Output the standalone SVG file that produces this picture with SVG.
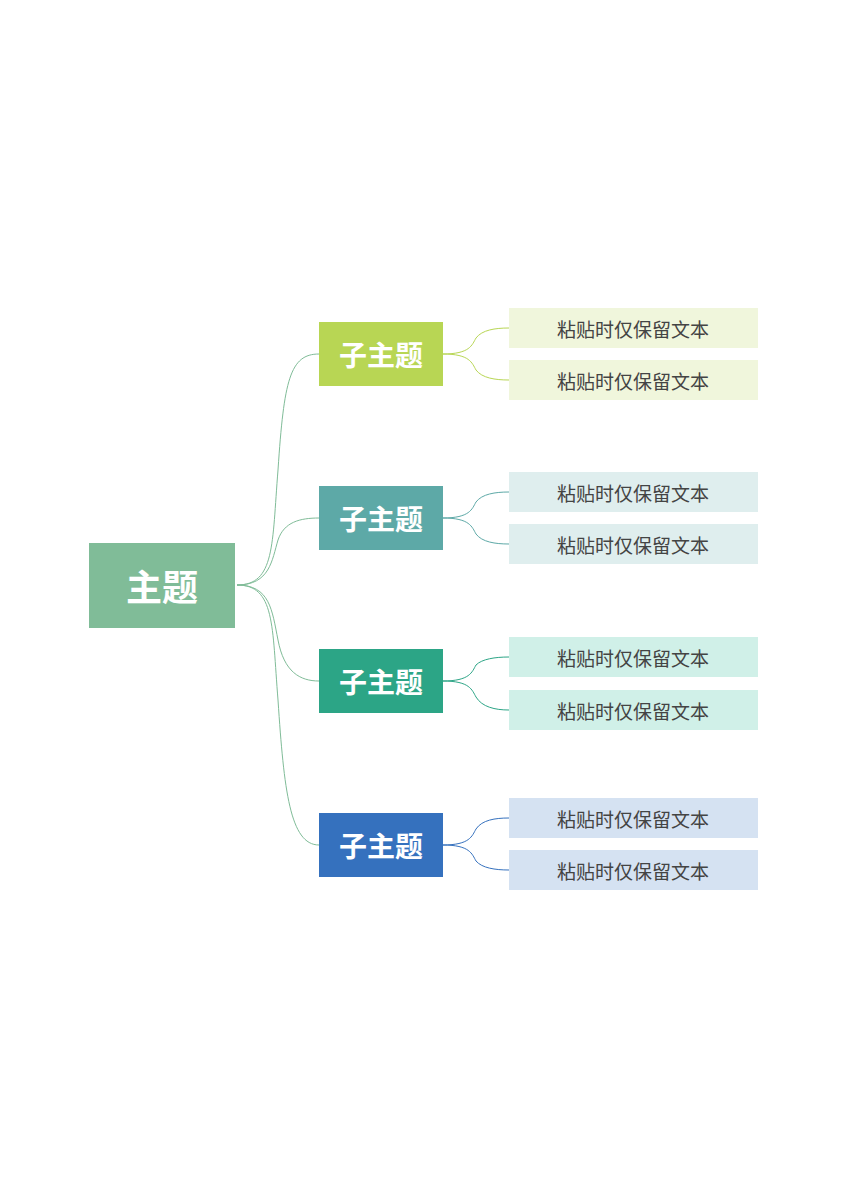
<svg xmlns="http://www.w3.org/2000/svg" width="848" height="1200" viewBox="0 0 848 1200">
<style>
.t{font-family:"Noto Sans CJK SC",sans-serif;font-weight:bold;fill:#fff;text-anchor:middle;dominant-baseline:central}
.l{font-family:"Noto Sans CJK SC",sans-serif;fill:#444;font-size:19px;text-anchor:middle;dominant-baseline:central}
path{fill:none;stroke-width:1}
</style>
<rect width="848" height="1200" fill="#fff"/>
<g id="connectors">
<path d="M237 585 C275 585 272 545 278 470 C284 380 290 354 319 354" stroke="#80BC98"/>
<path d="M237 585 C270 585 272 560 278 540 C284 522 300 518 319 518" stroke="#80BC98"/>
<path d="M237 585 C270 585 272 610 278 640 C284 672 300 681 319 681" stroke="#80BC98"/>
<path d="M237 585 C275 585 272 625 278 700 C284 790 290 845 319 845" stroke="#80BC98"/>
<path d="M443 354 C470 354 472 345 476 338 C482 330 495 328 509 328" stroke="#B8D654"/>
<path d="M443 354 C470 354 472 363 476 370 C482 378 495 380 509 380" stroke="#B8D654"/>
<path d="M443 518 C470 518 472 509 476 502 C482 494 495 492 509 492" stroke="#5DA9A7"/>
<path d="M443 518 C470 518 472 527 476 534 C482 542 495 544 509 544" stroke="#5DA9A7"/>
<path d="M443 681 C470 681 472 672 476 665 C482 659 495 657 509 657" stroke="#2CA586"/>
<path d="M443 681 C470 681 472 690 476 697 C482 707 495 710 509 710" stroke="#2CA586"/>
<path d="M443 845 C470 845 472 836 476 829 C482 820 495 818 509 818" stroke="#3571BE"/>
<path d="M443 845 C470 845 472 854 476 861 C482 868 495 870 509 870" stroke="#3571BE"/>
</g>
<g id="root"><rect x="89" y="543" width="146" height="85" fill="#80BC98"/><text class="t" x="162" y="585" font-size="36">主题</text></g>
<g id="s1"><rect x="319" y="322" width="124" height="64" fill="#B8D654"/><text class="t" x="381" y="354" font-size="28">子主题</text></g>
<g id="s2"><rect x="319" y="486" width="124" height="64" fill="#5DA9A7"/><text class="t" x="381" y="518" font-size="28">子主题</text></g>
<g id="s3"><rect x="319" y="649" width="124" height="64" fill="#2CA586"/><text class="t" x="381" y="681" font-size="28">子主题</text></g>
<g id="s4"><rect x="319" y="813" width="124" height="64" fill="#3571BE"/><text class="t" x="381" y="845" font-size="28">子主题</text></g>
<g id="l1a"><rect x="509" y="308" width="249" height="40" fill="#F0F6DC"/><text class="l" x="633" y="328">粘贴时仅保留文本</text></g>
<g id="l1b"><rect x="509" y="360" width="249" height="40" fill="#F0F6DC"/><text class="l" x="633" y="380">粘贴时仅保留文本</text></g>
<g id="l2a"><rect x="509" y="472" width="249" height="40" fill="#DFEEEE"/><text class="l" x="633" y="492">粘贴时仅保留文本</text></g>
<g id="l2b"><rect x="509" y="524" width="249" height="40" fill="#DFEEEE"/><text class="l" x="633" y="544">粘贴时仅保留文本</text></g>
<g id="l3a"><rect x="509" y="637" width="249" height="40" fill="#D0F0E8"/><text class="l" x="633" y="657">粘贴时仅保留文本</text></g>
<g id="l3b"><rect x="509" y="690" width="249" height="40" fill="#D0F0E8"/><text class="l" x="633" y="710">粘贴时仅保留文本</text></g>
<g id="l4a"><rect x="509" y="798" width="249" height="40" fill="#D5E2F2"/><text class="l" x="633" y="818">粘贴时仅保留文本</text></g>
<g id="l4b"><rect x="509" y="850" width="249" height="40" fill="#D5E2F2"/><text class="l" x="633" y="870">粘贴时仅保留文本</text></g>
</svg>
